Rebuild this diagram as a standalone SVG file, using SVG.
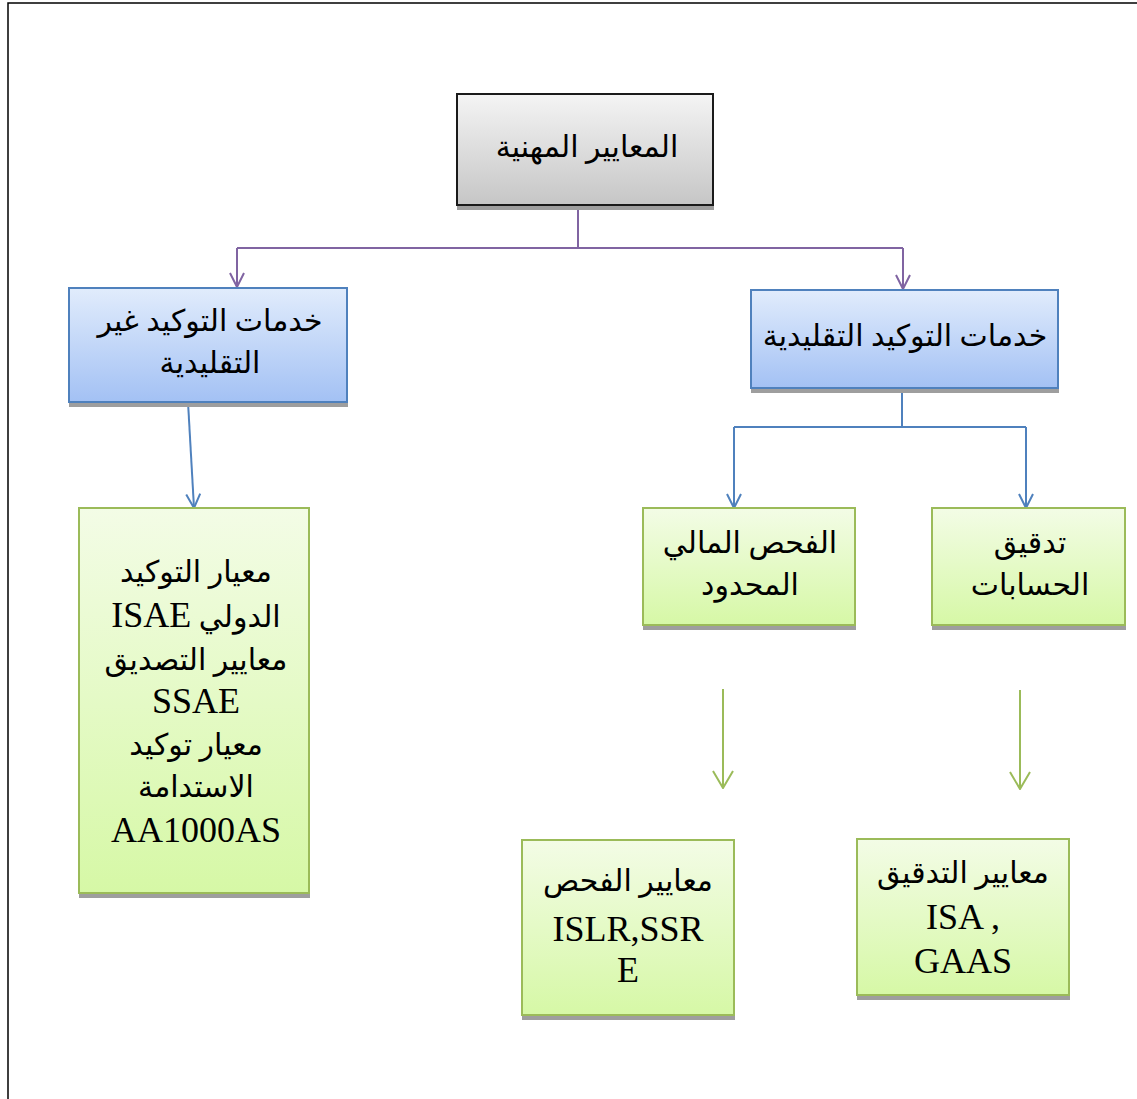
<svg xmlns="http://www.w3.org/2000/svg" width="1137" height="1099" viewBox="0 0 1137 1099">
<defs>
<linearGradient id="gGray" x1="0" y1="0" x2="0" y2="1"><stop offset="0" stop-color="#f4f4f4"/><stop offset="1" stop-color="#c6c6c6"/></linearGradient>
<linearGradient id="gBlue" x1="0" y1="0" x2="0" y2="1"><stop offset="0" stop-color="#e1ecfc"/><stop offset="1" stop-color="#a3c1f4"/></linearGradient>
<linearGradient id="gGreen" x1="0" y1="0" x2="0" y2="1"><stop offset="0" stop-color="#f3fce6"/><stop offset="1" stop-color="#d6f8a6"/></linearGradient>
<marker id="aPurple" markerWidth="16" markerHeight="16" refX="15" refY="8" orient="auto" markerUnits="userSpaceOnUse" viewBox="0 0 16 16"><path d="M1,1 L15,8 L1,15" fill="none" stroke="#8064a2" stroke-width="2"/></marker>
<marker id="aBlue" markerWidth="16" markerHeight="16" refX="15" refY="8" orient="auto" markerUnits="userSpaceOnUse" viewBox="0 0 16 16"><path d="M1,1 L15,8 L1,15" fill="none" stroke="#4f81bd" stroke-width="2"/></marker>
<marker id="aGreen" markerWidth="22" markerHeight="22" refX="21" refY="11" orient="auto" markerUnits="userSpaceOnUse" viewBox="0 0 22 22"><path d="M4,1 L21,11 L4,21" fill="none" stroke="#9bbb59" stroke-width="2"/></marker>
</defs>
<style>
.shadow{fill:#9e9e9e}
.gray{fill:url(#gGray);stroke:#1a1a1a;stroke-width:2}
.blue{fill:url(#gBlue);stroke:#4f81bd;stroke-width:2}
.green{fill:url(#gGreen);stroke:#9bbb59;stroke-width:2}
.ar{font-family:"Liberation Serif","DejaVu Sans",serif;font-size:30px;fill:#000;text-anchor:middle}
.lt{font-family:"Liberation Serif",serif;font-size:36px;fill:#000;text-anchor:middle}
.cp{fill:none;stroke:#8064a2;stroke-width:2}
.cb{fill:none;stroke:#4f81bd;stroke-width:2}
.cg{fill:none;stroke:#9bbb59;stroke-width:2}
</style>
<rect width="1137" height="1099" fill="#fff"/>
<path d="M8,1099 L8,3 L1137,3" fill="none" stroke="#000" stroke-width="1.5"/>

<g id="connectors">
<path class="cp" d="M578,205 L578,248"/>
<path class="cp" d="M237,248 L903,248"/>
<path class="cp" d="M237,248 L237,287" marker-end="url(#aPurple)"/>
<path class="cp" d="M903,248 L903,289" marker-end="url(#aPurple)"/>
<path class="cb" d="M188,402 L194,508" marker-end="url(#aBlue)"/>
<path class="cb" d="M902,389 L902,427"/>
<path class="cb" d="M734,427 L1026,427"/>
<path class="cb" d="M734,427 L734,508" marker-end="url(#aBlue)"/>
<path class="cb" d="M1026,427 L1026,508" marker-end="url(#aBlue)"/>
<path class="cg" d="M723,689 L723,788" marker-end="url(#aGreen)"/>
<path class="cg" d="M1020,690 L1020,789" marker-end="url(#aGreen)"/>
</g>

<g id="node-root">
<rect class="shadow" x="457" y="99" width="257" height="111"/>
<rect class="gray" x="457" y="94" width="256" height="111"/>
<text class="ar" x="587" y="157" direction="rtl">المعايير المهنية</text>
</g>

<g id="node-nontraditional">
<rect class="shadow" x="69" y="293" width="279" height="114"/>
<rect class="blue" x="69" y="288" width="278" height="114"/>
<text class="ar" x="210" y="331" direction="rtl">خدمات التوكيد غير</text>
<text class="ar" x="210" y="373" direction="rtl">التقليدية</text>
</g>

<g id="node-traditional">
<rect class="shadow" x="751" y="295" width="308" height="98"/>
<rect class="blue" x="751" y="290" width="307" height="98"/>
<text class="ar" x="905" y="346" direction="rtl">خدمات التوكيد التقليدية</text>
</g>

<g id="node-assurance-standards">
<rect class="shadow" x="79" y="513" width="231" height="385"/>
<rect class="green" x="79" y="508" width="230" height="385"/>
<text class="ar" x="196" y="582" direction="rtl">معيار التوكيد</text>
<text class="ar" x="196" y="627" direction="rtl"><tspan>الدولي </tspan><tspan style="font-family:'Liberation Serif',serif;font-size:36px">ISAE</tspan></text>
<text class="ar" x="196" y="670" direction="rtl">معايير التصديق</text>
<text class="lt" x="196" y="713">SSAE</text>
<text class="ar" x="196" y="755" direction="rtl">معيار توكيد</text>
<text class="ar" x="196" y="797" direction="rtl">الاستدامة</text>
<text class="lt" x="196" y="842">AA1000AS</text>
</g>

<g id="node-review">
<rect class="shadow" x="643" y="513" width="213" height="117"/>
<rect class="green" x="643" y="508" width="212" height="117"/>
<text class="ar" x="750" y="553" direction="rtl">الفحص المالي</text>
<text class="ar" x="750" y="595" direction="rtl">المحدود</text>
</g>

<g id="node-audit">
<rect class="shadow" x="932" y="513" width="194" height="117"/>
<rect class="green" x="932" y="508" width="193" height="117"/>
<text class="ar" x="1030" y="553" direction="rtl">تدقيق</text>
<text class="ar" x="1030" y="595" direction="rtl">الحسابات</text>
</g>

<g id="node-review-standards">
<rect class="shadow" x="522" y="845" width="213" height="175"/>
<rect class="green" x="522" y="840" width="212" height="175"/>
<text class="ar" x="628" y="891" direction="rtl">معايير الفحص</text>
<text class="lt" x="628" y="941">ISLR,SSR</text>
<text class="lt" x="628" y="982">E</text>
</g>

<g id="node-audit-standards">
<rect class="shadow" x="857" y="844" width="213" height="156"/>
<rect class="green" x="857" y="839" width="212" height="156"/>
<text class="ar" x="963" y="883" direction="rtl">معايير التدقيق</text>
<text class="lt" x="963" y="929">ISA ,</text>
<text class="lt" x="963" y="973">GAAS</text>
</g>
</svg>
